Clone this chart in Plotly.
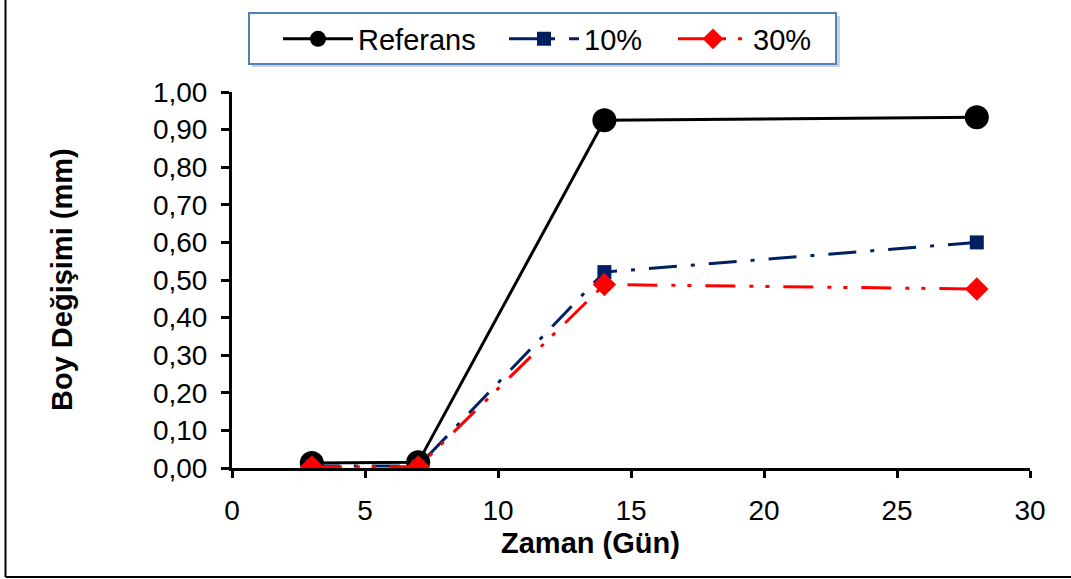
import plotly.graph_objects as go

days = [3, 7, 14, 28]
referans = [0.013, 0.015, 0.925, 0.933]
p10 = [0.005, 0.005, 0.521, 0.600]
p30 = [0.003, 0.003, 0.488, 0.476]
x_ticks = [0, 5, 10, 15, 20, 25, 30]
y_ticks = [0.0, 0.1, 0.2, 0.3, 0.4, 0.5, 0.6, 0.7, 0.8, 0.9, 1.0]
y_labels = [f"{v:.2f}".replace(".", ",") for v in y_ticks]

FONT = "Liberation Sans, Arial, sans-serif"
FS_TICK = 28
FS_TITLE = 29
FS_LEG = 29
W, H = 1071, 579
L, R, T, B = 232, 1030, 92, 468

def px(xp):
    return (xp - L) / (R - L)

def py(yp):
    return (B - yp) / (B - T)

fig = go.Figure()
fig.add_trace(go.Scatter(
    x=days, y=referans, name="Referans", mode="lines+markers",
    line=dict(color="black", width=3),
    marker=dict(symbol="circle", size=24, color="black"),
    legend="legend"))
fig.add_trace(go.Scatter(
    x=days, y=p10, name="10%", mode="lines+markers",
    line=dict(color="#002060", width=3, dash="28px,14px,4px,14px"),
    marker=dict(symbol="square", size=14, color="#002060"),
    legend="legend2"))
fig.add_trace(go.Scatter(
    x=days, y=p30, name="30%", mode="lines+markers",
    line=dict(color="#FF0000", width=3, dash="30px,14px,4px,12px,4px,14px"),
    marker=dict(symbol="diamond", size=18, color="#FF0000"),
    legend="legend3"))

leg_common = dict(font=dict(family=FONT, size=FS_LEG, color="black"),
                  bgcolor="rgba(0,0,0,0)", borderwidth=0, itemwidth=70,
                  yanchor="middle", xanchor="left", orientation="h")
fig.update_layout(
    legend=dict(x=px(278), y=py(39), **leg_common),
    legend2=dict(x=px(504), y=py(39), **leg_common),
    legend3=dict(x=px(673), y=py(39), **leg_common),
)

shapes = [
    dict(type="rect", xref="paper", yref="paper",
         x0=px(252), x1=px(840), y0=py(67), y1=py(16),
         line=dict(width=0), fillcolor="rgba(0,0,0,0.18)", layer="below"),
    dict(type="rect", xref="paper", yref="paper",
         x0=px(249), x1=px(836), y0=py(64), y1=py(13),
         line=dict(color="#4F81BD", width=2), fillcolor="white", layer="below"),
    dict(type="line", xref="paper", yref="paper",
         x0=px(5.5), x1=px(5.5), y0=py(-2), y1=py(577),
         line=dict(color="black", width=2)),
    dict(type="line", xref="paper", yref="paper",
         x0=px(5.5), x1=px(1072), y0=py(577), y1=py(577),
         line=dict(color="black", width=2)),
]

annotations = [
    dict(text="<b>Boy Değişimi (mm)</b>", xref="paper", yref="paper",
         x=px(62), y=py(280), textangle=-90, showarrow=False,
         xanchor="center", yanchor="middle",
         font=dict(family=FONT, size=FS_TITLE, color="black")),
    dict(text="<b>Zaman (Gün)</b>", xref="paper", yref="paper",
         x=px(590), y=py(543), showarrow=False,
         xanchor="center", yanchor="middle",
         font=dict(family=FONT, size=FS_TITLE, color="black")),
]

fig.update_layout(
    width=W, height=H,
    margin=dict(l=L, r=W - R, t=T, b=H - B, pad=0),
    paper_bgcolor="white", plot_bgcolor="white",
    shapes=shapes, annotations=annotations,
    showlegend=True,
    xaxis=dict(range=[0, 30], tickvals=x_ticks, ticktext=[str(v) for v in x_ticks],
               showgrid=False, zeroline=False, showline=True, linecolor="black",
               linewidth=3, ticks="outside", ticklen=7, tickwidth=3, tickcolor="black",
               ticklabelstandoff=8,
               tickfont=dict(family=FONT, size=FS_TICK, color="black")),
    yaxis=dict(range=[0, 1.0], tickvals=y_ticks, ticktext=y_labels,
               showgrid=False, zeroline=False, showline=True, linecolor="black",
               linewidth=3, ticks="outside", ticklen=8, tickwidth=3, tickcolor="black",
               ticklabelstandoff=8,
               tickfont=dict(family=FONT, size=FS_TICK, color="black")),
)

fig.write_html("out.html")
